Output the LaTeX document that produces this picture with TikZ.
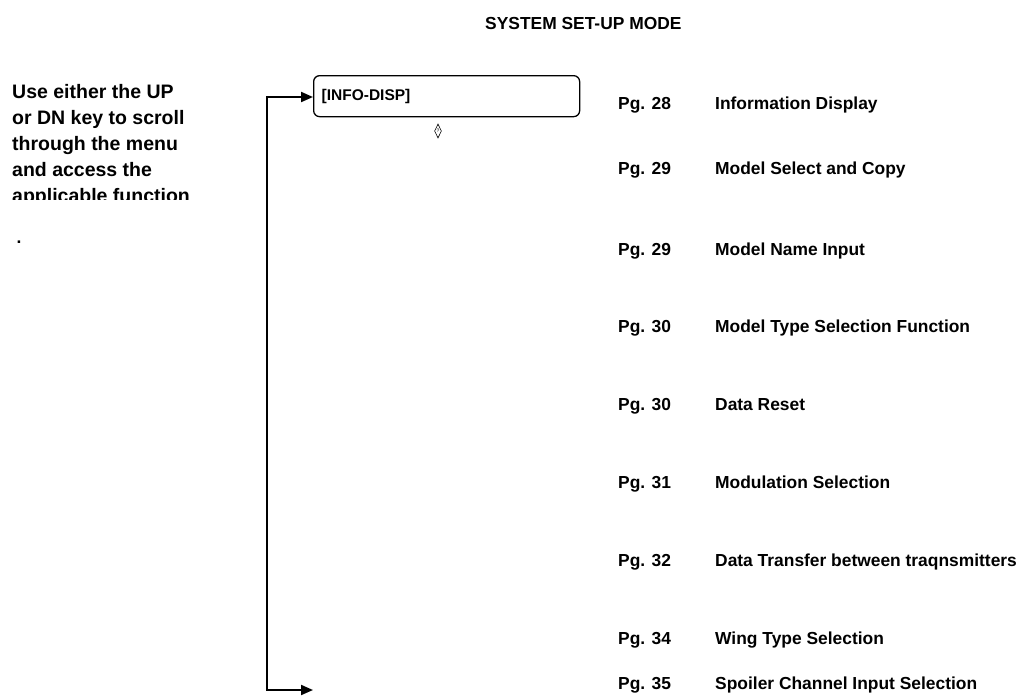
\documentclass[tikz,border=0pt]{standalone}
\usepackage{fontspec}
\setmainfont{Liberation Sans}
\usetikzlibrary{positioning,arrows.meta,shapes.geometric}

\begin{document}
\begin{tikzpicture}[
  x=1pt, y=-1pt,
  font=\fontsize{17.4}{20}\selectfont\bfseries,
  menubox/.style={draw, line width=1.3pt, rounded corners=6pt, minimum width=263pt,
                  minimum height=41pt, anchor=north west, text width=250pt,
                  align=left, inner xsep=8pt, font=\fontsize{15.5}{18}\selectfont\bfseries},
  pg/.style={anchor=base west, inner sep=0pt},
  desc/.style={anchor=base west, inner sep=0pt},
  arr/.style={{Triangle[length=12pt,width=10pt]}-{Triangle[length=12pt,width=10pt]}, line width=2pt},
  ]
  \useasboundingbox (0,0) rectangle (1020,697);

  \node[anchor=base west, inner sep=0pt] (title) at (485,29) {SYSTEM SET-UP MODE};

  % help text, last line cut off as in the print
  \begin{scope}
    \clip (0,60) rectangle (240,199);
    \node[anchor=north west, align=left, inner sep=0pt,
          font=\fontsize{19.5}{26}\selectfont\bfseries] (help) at (12,84)
      {Use either the UP\\or DN key to scroll\\through the menu\\and access the\\applicable function};
  \end{scope}
  \node[inner sep=0pt] (dot) at (19,242) {.};

  \node[menubox] (info) at (313,75) {[INFO-DISP]};
  \node[draw, diamond, line width=0.6pt, inner sep=0pt, minimum width=7pt,
        minimum height=14pt, font=\fontsize{5}{5}\selectfont] (updn) at (438,131) {?};

  \coordinate (lpTop) at (267,97);
  \coordinate (lpEnd) at (313,690);
  \draw[arr] (lpEnd) -| (lpTop) -- (info.west |- lpTop);

  \node[pg] (p1) at (618,109) {Pg. 28};
  \node[pg] (p2) at (618,174) {Pg. 29};
  \node[pg] (p3) at (618,255) {Pg. 29};
  \node[pg] (p4) at (618,332) {Pg. 30};
  \node[pg] (p5) at (618,410) {Pg. 30};
  \node[pg] (p6) at (618,488) {Pg. 31};
  \node[pg] (p7) at (618,566) {Pg. 32};
  \node[pg] (p8) at (618,644) {Pg. 34};
  \node[pg] (p9) at (618,689) {Pg. 35};

  \node[desc] (d1) at (715,109) {Information Display};
  \node[desc] (d2) at (715,174) {Model Select and Copy};
  \node[desc] (d3) at (715,255) {Model Name Input};
  \node[desc] (d4) at (715,332) {Model Type Selection Function};
  \node[desc] (d5) at (715,410) {Data Reset};
  \node[desc] (d6) at (715,488) {Modulation Selection};
  \node[desc] (d7) at (715,566) {Data Transfer between traqnsmitters};
  \node[desc] (d8) at (715,644) {Wing Type Selection};
  \node[desc] (d9) at (715,689) {Spoiler Channel Input Selection};
\end{tikzpicture}
\end{document}
